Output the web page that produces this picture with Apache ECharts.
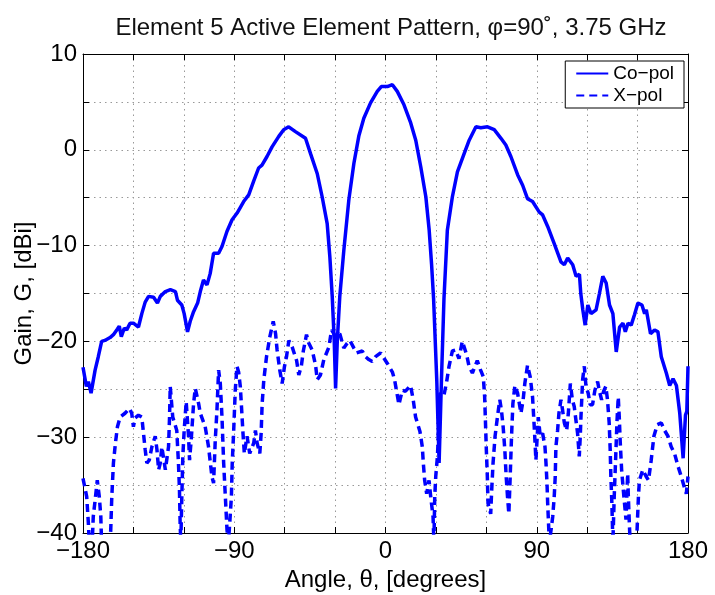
<!DOCTYPE html>
<html>
<head>
<meta charset="utf-8">
<script src="https://cdn.jsdelivr.net/npm/echarts@6/dist/echarts.min.js"></script>
<style>
  html, body { margin: 0; padding: 0; background: #fff; }
  #chart { width: 715px; height: 595px; }
</style>
</head>
<body>
<div id="chart"></div>
<script>
// angle (deg) / gain (dBi)
const coAngle = [-180, -178, -176.8, -175.2, -172.8, -170.9, -168.9, -167, -163.9, -161.9, -159.5, -158.4, -157.2, -155.4, -154, -152, -150, -147, -145, -143, -141, -138, -135.7, -134, -131, -128, -125, -123.8, -121.2, -119.8, -117.8, -116.2, -114.2, -111.8, -110.2, -108.3, -106.2, -104.3, -102.3, -99.3, -97.3, -94.3, -91.3, -88.3, -84.4, -81.4, -78.5, -75.5, -73.5, -70.5, -67.5, -63.5, -60.6, -57.6, -53.6, -47.6, -44.6, -40.6, -37.7, -34.7, -33.1, -31.7, -30.5, -29.7, -28.7, -27.2, -24.8, -21.8, -18.8, -15.8, -12.9, -8.9, -4.9, -2.5, 1.1, 4.1, 7, 11, 15, 18, 21, 24, 26, 27.4, 28.6, 30.5, 31.9, 33.3, 34.8, 36.8, 39.8, 42.8, 46.8, 49.8, 53.8, 56.7, 60.7, 64.7, 68.7, 71.6, 74.6, 78.6, 81.6, 84.5, 87.5, 91.5, 93.5, 96.5, 100.4, 104.4, 106.4, 108.4, 111.4, 113.4, 115.4, 116.2, 117.4, 118.8, 120.4, 122.3, 125.3, 127.3, 129.3, 131.3, 133.3, 135.3, 137.3, 139.3, 141.3, 142.7, 144.3, 146.2, 148.2, 150.2, 152.6, 154.2, 155.2, 157.7, 160.1, 162.1, 164.1, 167.1, 169.1, 171.1, 173.1, 175.1, 177.1, 178.5, 179.3, 180];
const coGain = [-22.7, -24.7, -24.2, -25.4, -23, -21.6, -20, -19.9, -19.6, -19.3, -18.7, -18.4, -19.5, -18.6, -18.8, -18.1, -18.1, -18.5, -17.1, -15.9, -15.3, -15.4, -16, -15.3, -14.8, -14.6, -14.8, -15.7, -16.2, -17.1, -19, -17.9, -16.9, -16, -14.8, -13.6, -14.1, -12.9, -10.8, -10.8, -10.1, -8.5, -7.3, -6.6, -5.4, -4.7, -3.3, -1.9, -1.6, -0.7, 0.3, 1.4, 2.1, 2.4, 1.9, 1.2, -0.4, -2.5, -4.9, -7.7, -11.2, -15.3, -20, -24.9, -20, -15.3, -10.5, -5.2, -1.4, 1.5, 3.3, 4.9, 6.1, 6.6, 6.6, 6.8, 6.1, 4.7, 2.8, 1, -1.8, -4.9, -8.4, -11.9, -15.5, -24, -32.7, -24, -15.5, -8.4, -4.9, -2.3, -0.4, 1, 2.4, 2.3, 2.4, 2.1, 1.2, 0.5, -0.7, -2.6, -3.7, -5.1, -5.4, -6.5, -6.8, -8, -9.8, -11.7, -12, -11.3, -12, -13.2, -13, -15, -16.7, -18.3, -16.2, -17.1, -16.7, -15, -13.2, -13.9, -16.2, -17.1, -21.1, -18.5, -18.1, -19, -18.1, -18.3, -17.2, -16, -16.2, -17.1, -16.7, -19.2, -18.8, -19, -21.6, -23.3, -24.6, -23.9, -24.6, -27.5, -32.2, -27.7, -27.3, -22.6];

const xAngle = [-180, -177.8, -176.8, -176, -174.5, -173.9, -172.8, -171.5, -170.3, -169.4, -168.8, -164, -163.5, -162.9, -161.9, -160.7, -159.5, -157.9, -155, -152.4, -151, -150, -149, -147, -145, -144, -143, -142, -140.6, -139, -137, -136, -135, -134, -133.1, -131, -129.1, -128.5, -128.1, -126.6, -124.2, -123.2, -122.6, -122.2, -121.8, -121.2, -120.6, -119.8, -118.6, -117.2, -116.6, -115.5, -114.2, -113.2, -111.2, -110.2, -107.3, -105.3, -103.3, -102.3, -101.3, -100.3, -99.3, -98.3, -97.3, -96.3, -95.3, -94.3, -93.5, -92.7, -91.7, -91.2, -90.4, -89.4, -88.4, -87.4, -86.4, -85.8, -84.8, -84, -82.4, -80.8, -78.4, -77.4, -76.4, -74.8, -74, -73.4, -72.4, -70.8, -68.8, -66.8, -65.4, -64.5, -62.9, -61.5, -60.1, -58.9, -57.5, -55.5, -52.9, -51.6, -50.1, -48.9, -47, -45.6, -43.6, -41.6, -40.6, -38.7, -36.7, -33.7, -32.1, -29.7, -27.2, -24.8, -22.8, -21.2, -18.8, -17.2, -13.8, -11.9, -9.9, -7.9, -5.9, -2.9, 1.1, 4.1, 5.4, 7, 8, 10, 11.9, 14.9, 16.5, 17.9, 20.5, 21.9, 22.5, 23.3, 24.5, 25.9, 26.9, 28.3, 28.8, 29.3, 29.9, 30.9, 31.8, 32.5, 34.8, 36.4, 37.8, 39.8, 41.7, 43.7, 45.7, 48.3, 49.7, 51.7, 54.6, 56.6, 58.2, 59, 59.5, 60, 60.6, 61, 62.6, 63.2, 64, 65.2, 66.6, 68, 69, 70, 71, 71.8, 72.6, 73.4, 74.2, 75, 75.8, 77, 78.6, 80.6, 81.9, 82.9, 84.5, 86.1, 87.5, 88.5, 89.5, 90.9, 92.1, 93.5, 94.9, 95.5, 96.1, 96.5, 97.5, 98.5, 99.5, 100.4, 101, 101.4, 102.4, 103.2, 104.4, 105.4, 106.4, 107.8, 108.8, 110, 111.2, 112.3, 113.3, 114.3, 115.3, 115.9, 116.3, 117.3, 118.3, 119.3, 120.6, 121.8, 123.2, 124.6, 126.2, 127.2, 128.6, 129.8, 131.1, 132.1, 133.1, 133.7, 134.1, 134.7, 135.3, 136.1, 137, 137.7, 138.5, 139.1, 139.7, 140.5, 141.7, 143.1, 144.1, 144.5, 145.1, 145.8, 149.2, 149.7, 150.5, 151.1, 153.1, 155.1, 156.5, 158.1, 159.7, 161.7, 164.1, 166.1, 168.1, 170, 172, 174, 176, 177.6, 179, 180];
const xGain = [-34.3, -36.2, -39, -42, -41, -38.3, -36.6, -34.5, -36.2, -38.3, -42, -42, -39.7, -36.4, -32.7, -30.6, -28.9, -27.9, -27.5, -27, -27.5, -28.9, -28, -27.7, -27.9, -29.6, -31.3, -32.7, -32.4, -31, -29.9, -31.3, -33.4, -32.7, -31, -33.4, -31, -27.9, -24.7, -27.9, -29.3, -32.7, -35.5, -39, -41, -36.2, -32, -29.3, -26.3, -29.9, -32.4, -30, -26.5, -24.9, -26.5, -27.5, -28.9, -31, -34.1, -34.8, -30.3, -27.2, -23, -24.4, -27.9, -32.7, -36.2, -39.7, -41, -39, -36.2, -32.7, -29.6, -25.1, -22.6, -23.2, -24.7, -26.5, -29.6, -31.7, -29.9, -31.7, -30.6, -29.3, -30.6, -31.7, -29.6, -26.5, -24, -21.6, -19.5, -17.9, -19.2, -20.9, -23, -24.4, -22.6, -21.6, -19.9, -20.6, -22, -23.5, -22.6, -21, -19.3, -20.2, -20.9, -22.5, -24, -23.5, -21.9, -20.6, -18.8, -19.5, -19.2, -20.7, -20.2, -19.9, -20.7, -21.2, -21, -21.6, -21.9, -22.1, -21.6, -21.2, -22.3, -23.2, -24, -25.6, -26.6, -25.1, -25.2, -24.6, -26.1, -27.9, -29.4, -31, -32.7, -34.5, -35.9, -34.5, -36.2, -38.3, -41, -36.2, -34.1, -32, -28.5, -25.4, -25.6, -24.2, -22.6, -21, -20.9, -21.8, -20, -21.4, -22.6, -23.3, -22, -23, -23.7, -25.8, -28.5, -31.3, -34.1, -36.9, -38, -35.5, -32.7, -29.9, -27.9, -26.1, -27.2, -28.9, -31.3, -34.1, -36.2, -38, -34.1, -29.9, -26.5, -24.6, -25.4, -27.5, -26.1, -24.4, -22.5, -23.7, -25.8, -28.9, -32.4, -27.9, -29.9, -29.6, -31, -32.7, -34.8, -36.9, -41, -39.7, -38.3, -36.2, -34.1, -31, -29.3, -27.5, -26.1, -27.2, -28.5, -29.3, -27.5, -24.4, -26.1, -26.8, -28.2, -29.6, -32, -29.9, -27.9, -24, -22.6, -24.7, -25.4, -26.6, -26.6, -25.1, -24.2, -25.1, -26.1, -25.2, -24.7, -26.1, -28.5, -31.3, -34.1, -36.9, -41, -36.2, -32, -28.5, -25.8, -27.9, -30.6, -33.4, -35.9, -38.6, -33.8, -36.2, -39, -42, -42, -39.7, -36.2, -34.5, -33.4, -34.1, -34.5, -32.4, -29.9, -28.7, -28.5, -29.3, -29.9, -31, -31.7, -33, -34.1, -35.1, -35.9, -34.1];

const seriesNames = ['Co\u2212pol', 'X\u2212pol'];

const chart = echarts.init(document.getElementById('chart'));
const font = 'Liberation Sans, Arial, sans-serif';
const minus = v => (v < 0 ? '\u2212' + Math.abs(v) : String(v));

const co = coAngle.map((a, i) => [a, coGain[i]]);
const xp = xAngle.map((a, i) => [a, xGain[i]]);

const tickStyle = { show: true, inside: true, length: 6, lineStyle: { color: '#000', width: 1 } };
const axisLine = { show: true, onZero: false, lineStyle: { color: '#000', width: 1 } };
const gridLine = { show: true, lineStyle: { color: '#999', type: [1.5, 4], width: 1 } };

chart.setOption({
  animation: false,
  backgroundColor: '#fff',
  title: {
    text: 'Element 5 Active Element Pattern, \u03c6=90\u02da, 3.75 GHz',
    left: 386, textAlign: 'center', top: 11,
    textStyle: { fontFamily: font, fontSize: 24, fontWeight: 'normal', color: '#111' }
  },
  legend: {
    data: seriesNames,
    orient: 'vertical',
    right: 31, top: 61,
    backgroundColor: '#fff',
    borderColor: '#000', borderWidth: 1, borderRadius: 0,
    padding: [3, 10, 3, 10],
    itemGap: 3, itemWidth: 32, itemHeight: 14,
    itemStyle: { opacity: 0 },
    textStyle: { fontFamily: font, fontSize: 19, color: '#000' }
  },
  grid: { left: 83, top: 54, width: 605, height: 479, outerBoundsMode: 'none' },
  xAxis: [{
    type: 'value', min: -180, max: 180, interval: 30,
    name: 'Angle, \u03b8, [degrees]', nameLocation: 'middle', nameGap: 31,
    nameTextStyle: { fontFamily: font, fontSize: 24, color: '#000' },
    axisLine: axisLine,
    axisTick: tickStyle,
    axisLabel: {
      fontFamily: font, fontSize: 24, color: '#000', margin: 6,
      formatter: v => (v % 90 === 0 ? minus(v) : '')
    },
    splitLine: gridLine
  }, {
    type: 'value', min: -180, max: 180, interval: 30, position: 'top',
    axisLine: axisLine,
    axisTick: tickStyle, axisLabel: { show: false }, splitLine: { show: false }
  }],
  yAxis: [{
    type: 'value', min: -40, max: 10, interval: 5,
    name: 'Gain, G, [dBi]', nameLocation: 'middle', nameGap: 47, nameMoveOverlap: false,
    nameTextStyle: { fontFamily: font, fontSize: 24, color: '#000' },
    axisLine: axisLine,
    axisTick: tickStyle,
    axisLabel: {
      fontFamily: font, fontSize: 24, color: '#000', margin: 6,
      formatter: v => (v % 10 === 0 ? minus(v) : '')
    },
    splitLine: gridLine
  }, {
    type: 'value', min: -40, max: 10, interval: 5, position: 'right',
    axisLine: axisLine,
    axisTick: tickStyle, axisLabel: { show: false }, splitLine: { show: false }
  }],
  series: [{
    name: seriesNames[0], type: 'line', data: co,
    xAxisIndex: 0, yAxisIndex: 0,
    symbol: 'none', clip: true,
    lineStyle: { color: '#0000ff', width: 3.5 },
    itemStyle: { color: '#0000ff' }
  }, {
    name: seriesNames[1], type: 'line', data: xp,
    xAxisIndex: 0, yAxisIndex: 0,
    symbol: 'none', clip: true,
    lineStyle: { color: '#0000ff', width: 3.5, type: [8, 5] },
    itemStyle: { color: '#0000ff' }
  }]
});
</script>
</body>
</html>
